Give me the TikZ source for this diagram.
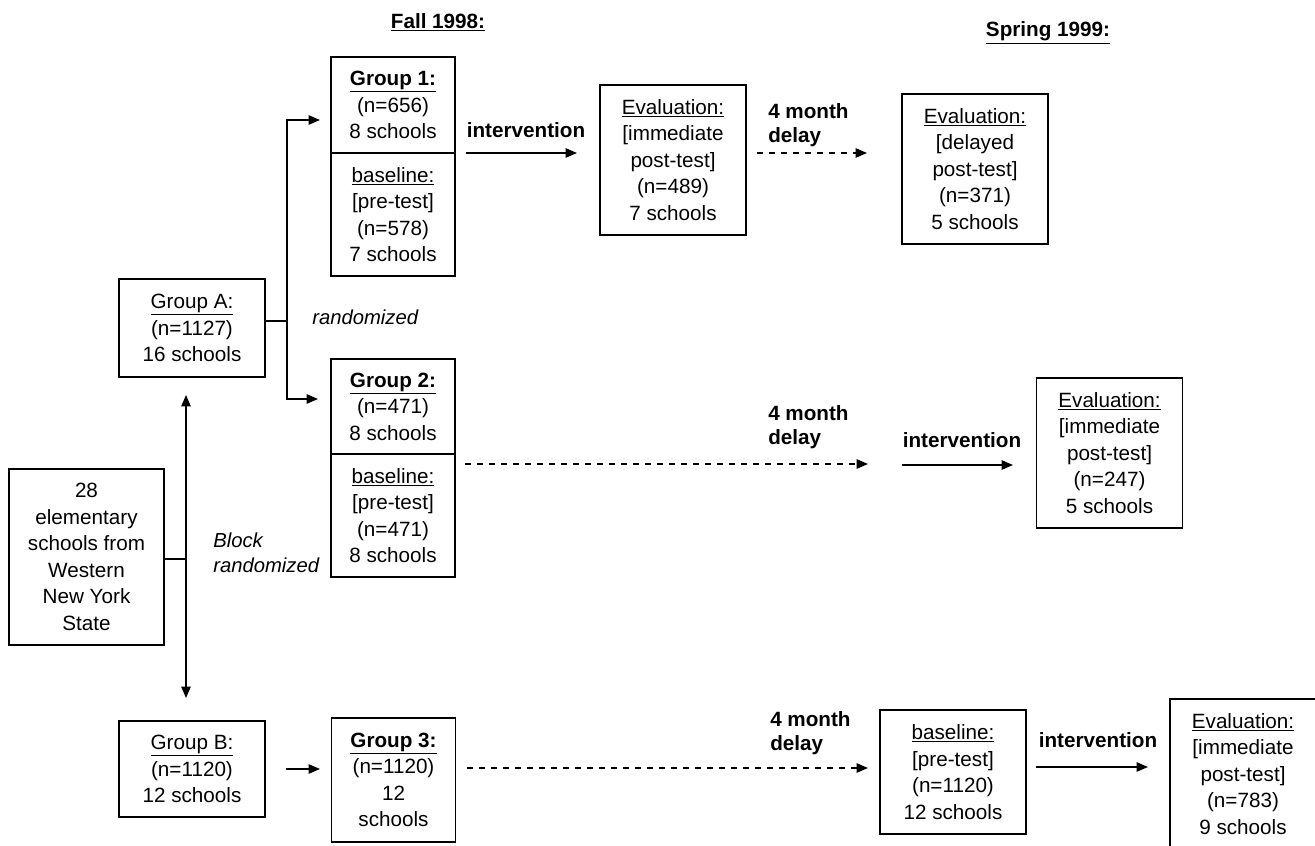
\documentclass[tikz,border=0pt]{standalone}
\usepackage{fontspec}
\setmainfont{Liberation Sans}
\usetikzlibrary{arrows.meta}
\tikzset{
  box/.style={draw, line width=1.2pt, align=center, inner sep=0pt, font=\fontsize{15.5}{19.9}\selectfont},
  wbox/.style={box, minimum width=109.5pt},
  gbox/.style={box, minimum width=93pt},
  lbl/.style={font=\fontsize{15.5}{18}\selectfont\bfseries, inner sep=0pt, align=left},
  ital/.style={font=\fontsize{15.2}{18.75}\selectfont\itshape, inner sep=0pt, align=left},
  head/.style={font=\fontsize{15.5}{18}\selectfont\bfseries, inner sep=0pt},
  conn/.style={line width=1.1pt},
  arr/.style={line width=1.1pt, -{Triangle[length=8.5pt,width=7pt]}},
  darr/.style={arr, dash pattern=on 4.5pt off 4.5pt}
}
\begin{document}
\begin{tikzpicture}[x=0.75pt,y=-0.75pt]
\useasboundingbox (0,0) rectangle (1315,846);

% headers
\node[head] (fall) at (438,22) {\underline{Fall 1998:}};
\node[head] (spring) at (1048,33) {\underline{Spring 1999:}};

% boxes
\node[gbox, minimum height=72pt] (g1) at (393,105) {\underline{\textbf{Group 1:}}\\(n=656)\\8 schools};
\node[gbox, minimum height=92.25pt] (g1b) at (393,214.5) {\underline{baseline:}\\{[}pre-test{]}\\(n=578)\\7 schools};
\node[wbox, minimum height=112.5pt] (e1) at (673,160) {\underline{Evaluation:}\\{[}immediate\\post-test{]}\\(n=489)\\7 schools};
\node[wbox, minimum height=112.5pt] (e2) at (975,169) {\underline{Evaluation:}\\{[}delayed\\post-test{]}\\(n=371)\\5 schools};
\node[wbox, minimum height=73.5pt] (gA) at (192,328) {\underline{Group A:}\\(n=1127)\\16 schools};
\node[gbox, minimum height=71.25pt] (g2) at (393,406.5) {\underline{\textbf{Group 2:}}\\(n=471)\\8 schools};
\node[gbox, minimum height=92.25pt] (g2b) at (393,515.5) {\underline{baseline:}\\{[}pre-test{]}\\(n=471)\\8 schools};
\node[wbox, minimum height=112.5pt] (e3) at (1109.5,453) {\underline{Evaluation:}\\{[}immediate\\post-test{]}\\(n=247)\\5 schools};
\node[box, minimum width=116.25pt, minimum height=132pt] (s28) at (86.5,557) {28\\elementary\\schools from\\Western\\New York\\State};
\node[wbox, minimum height=72pt] (gB) at (192,769) {\underline{Group B:}\\(n=1120)\\12 schools};
\node[gbox, minimum height=93pt] (g3) at (393.5,780) {\underline{\textbf{Group 3:}}\\(n=1120)\\12\\schools};
\node[wbox, minimum height=93pt] (bl) at (953,772) {\underline{baseline:}\\{[}pre-test{]}\\(n=1120)\\12 schools};
\node[wbox, minimum height=112.5pt] (e4) at (1243,774) {\underline{Evaluation:}\\{[}immediate\\post-test{]}\\(n=783)\\9 schools};

% labels
\node[lbl] (int1) at (526,130) {intervention};
\node[lbl, anchor=west] (dl1) at (768,125) {4 month\\delay};
\node[ital, anchor=west] (rnd) at (312,317) {randomized};
\node[ital, anchor=west] (blk) at (213,552.5) {Block\\randomized};
\node[lbl, anchor=west] (dl2) at (768,427.5) {4 month\\delay};
\node[lbl] (int2) at (962,440) {intervention};
\node[lbl, anchor=west] (dl3) at (770,733.5) {4 month\\delay};
\node[lbl] (int3) at (1098,740) {intervention};

% randomization connectors
\coordinate (jA) at (287,321);
\coordinate (t1) at (320,120);
\coordinate (t2) at (318,399);
\draw[conn] (gA.east |- jA) -- (jA);
\draw[arr] (jA) |- (t1);
\draw[arr] (jA) |- (t2);

\coordinate (jB) at (186,559);
\coordinate (tA) at (186,395);
\coordinate (tB) at (186,698);
\draw[conn] (s28.east |- jB) -- (jB);
\draw[arr] (jB) -- (tA);
\draw[arr] (jB) -- (tB);

% row 1
\coordinate (a1s) at (466,153); \coordinate (a1e) at (577,153);
\coordinate (d1s) at (757,153); \coordinate (d1e) at (867,153);
\draw[arr] (a1s) -- (a1e);
\draw[darr] (d1s) -- (d1e);

% row 2
\coordinate (d2s) at (465,464); \coordinate (d2e) at (868,464);
\coordinate (a2s) at (902,465); \coordinate (a2e) at (1013,465);
\draw[darr] (d2s) -- (d2e);
\draw[arr] (a2s) -- (a2e);

% row 3
\coordinate (a3s) at (286,769); \coordinate (a3e) at (320,769);
\coordinate (d3s) at (467,768); \coordinate (d3e) at (868,768);
\coordinate (a4s) at (1036,767); \coordinate (a4e) at (1148,767);
\draw[arr] (a3s) -- (a3e);
\draw[darr] (d3s) -- (d3e);
\draw[arr] (a4s) -- (a4e);
\end{tikzpicture}
\end{document}
